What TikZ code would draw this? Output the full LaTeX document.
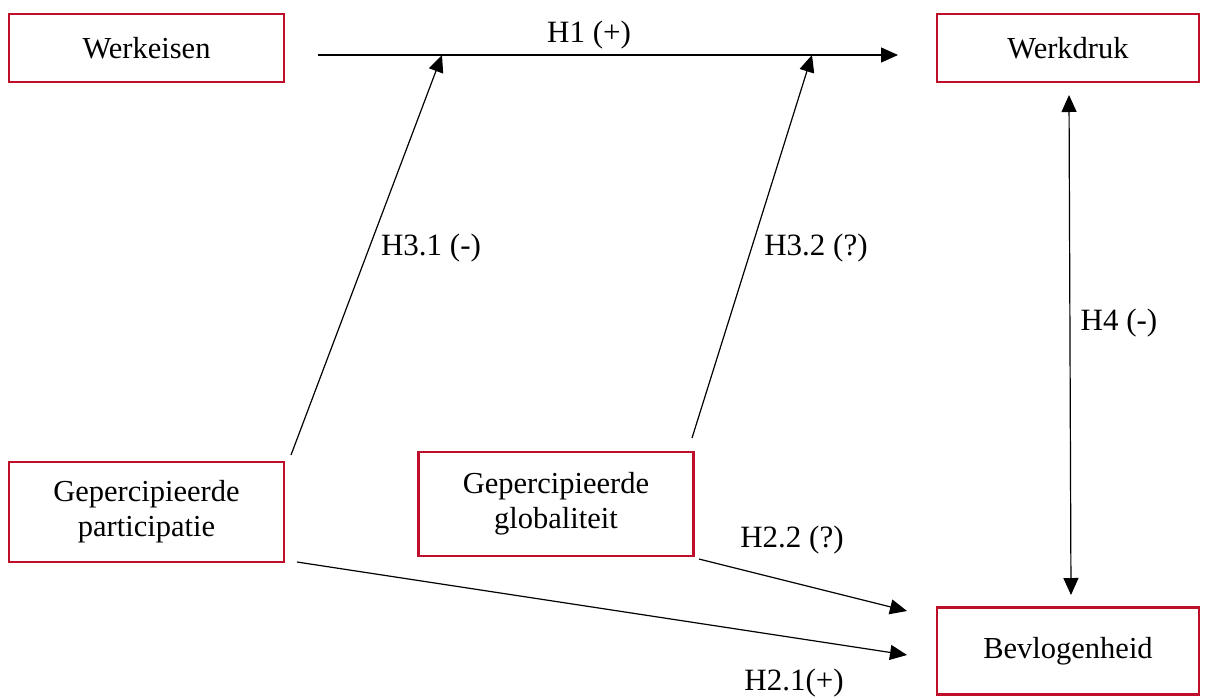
\documentclass[tikz,border=0pt]{standalone}
\usepackage{fontspec}
\setmainfont{Liberation Serif}
\usetikzlibrary{positioning,arrows.meta}
\definecolor{boxred}{RGB}{190,14,42}
\tikzset{
  var/.style ={rectangle, draw=boxred, line width=2.6pt, fill=white, minimum width=275pt, minimum height=68pt,
               align=center, inner sep=2pt, font=\fontsize{30.5}{35}\selectfont},
  e/.style   ={-{Triangle[length=17pt,width=15pt]}, line width=1.2pt, draw=black},
  ee/.style  ={{Triangle[length=17pt,width=15pt]}-{Triangle[length=17pt,width=15pt]}, line width=1.2pt, draw=black},
  el/.style  ={font=\fontsize{31}{34}\selectfont, inner sep=0pt},
}
\begin{document}
\begin{tikzpicture}[x=1pt,y=-1pt]
\useasboundingbox (0,0) rectangle (1209,697);
% constructs
\node[var] (we) at (146.5,48) {Werkeisen};
\node[var] (wd) at (1068,48) [minimum width=262pt] {Werkdruk};
\node[var] (pa) at (146.5,512) [minimum height=100pt] {Gepercipieerde\\participatie};
\node[var] (gl) at (556,504) [minimum height=104pt] {Gepercipieerde\\globaliteit};
\node[var] (bv) at (1068,651) [minimum width=262pt, minimum height=87pt] {Bevlogenheid};
% free ends of the paths
\coordinate (h1a) at (318,55);   \coordinate (h1b) at (898,55);
\coordinate (p1a) at (291,455);  \coordinate (p1b) at (442,55);
\coordinate (p2a) at (692,438);  \coordinate (p2b) at (812,55);
\coordinate (h4a) at (1069,95);  \coordinate (h4b) at (1071,595);
\coordinate (g2a) at (699,559);  \coordinate (g2b) at (907,611);
\coordinate (q2a) at (297,562);  \coordinate (q2b) at (907,655);
% direct effects
\draw[e] (h1a) -- (h1b);
\draw[e] (g2a) -- (g2b);
\draw[e] (q2a) -- (q2b);
\draw[ee] (h4a) -- (h4b);
% moderation
\draw[e] (p1a) -- (p1b);
\draw[e] (p2a) -- (p2b);
% hypothesis labels
\node[el] (l1)  at (589,35)  {H1 (+)};
\node[el] (l31) at (431,248) {H3.1 (-)};
\node[el] (l32) at (816,248) {H3.2 (?)};
\node[el] (l4)  at (1119,323) {H4 (-)};
\node[el] (l22) at (792,540) {H2.2 (?)};
\node[el] (l21) at (794,683) {H2.1(+)};
\end{tikzpicture}
\end{document}
